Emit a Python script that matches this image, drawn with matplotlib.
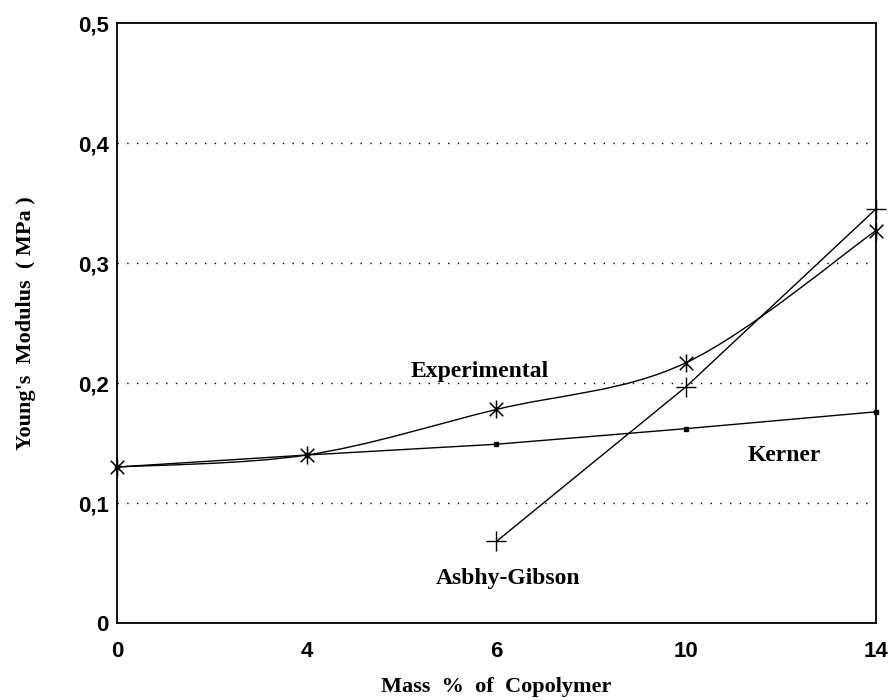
import matplotlib.pyplot as plt
import numpy as np
from matplotlib.path import Path
from matplotlib.patches import PathPatch
from matplotlib.ticker import FuncFormatter

# mass fraction of copolymer (%), plotted as evenly spaced categories
mass_pct = ['0', '4', '6', '10', '14']

experimental = [0.130, 0.140, 0.178, 0.217, 0.327]
kerner = [0.130, 0.140, 0.149, 0.162, 0.176]
ashby_x = ['6', '10', '14']
ashby_gibson = [0.068, 0.197, 0.345]

xpos = np.arange(len(mass_pct))
ashby_pos = [mass_pct.index(v) for v in ashby_x]


def smooth_path(x, y):
    # Bezier path through the points, tangent taken from the neighbours
    x = np.asarray(x, float)
    y = np.asarray(y, float)
    pts = np.column_stack([x, y])
    verts = [pts[0]]
    codes = [Path.MOVETO]
    n = len(pts)
    for i in range(n - 1):
        p_prev = pts[i - 1] if i > 0 else pts[i]
        p_next = pts[i + 2] if i + 2 < n else pts[i + 1]
        c1 = pts[i] + (pts[i + 1] - p_prev) / 6.0
        c2 = pts[i + 1] - (p_next - pts[i]) / 6.0
        verts += [c1, c2, pts[i + 1]]
        codes += [Path.CURVE4] * 3
    return Path(verts, codes)


# asterisk marker: vertical stroke plus an X
d = 0.75
star = Path([(0, -1), (0, 1), (-d, -d), (d, d), (-d, d), (d, -d)],
            [Path.MOVETO, Path.LINETO] * 3)

fig = plt.figure(figsize=(8.91, 7), dpi=100)
ax = fig.add_axes([0.1313, 0.110, 0.8517, 0.857])

# dotted horizontal grid
for g in [0.1, 0.2, 0.3, 0.4]:
    ax.axhline(g, color='black', lw=1.0, ls=(0, (1, 6)), zorder=1)

# experimental curve (smoothed) with star markers
ax.add_patch(PathPatch(smooth_path(xpos, experimental), fill=False,
                       edgecolor='black', lw=1.0, zorder=3))
ax.plot(xpos, experimental, ls='none', marker=star, ms=13,
        mec='black', mew=1.1, zorder=4, clip_on=False)

# Kerner model
ax.plot(xpos, kerner, color='black', lw=1.0, marker='s', ms=3.5,
        mfc='black', mec='black', zorder=3, clip_on=False)

# Ashby-Gibson model
ax.plot(ashby_pos, ashby_gibson, color='black', lw=1.0, marker='+', ms=15,
        mew=1.0, zorder=3, clip_on=False)

serif = ['Liberation Serif', 'DejaVu Serif']
ax.text(1.91, 0.21, 'Experimental', family=serif, fontweight='bold',
        fontsize=17, ha='center', va='center')
ax.text(3.52, 0.14, 'Kerner', family=serif, fontweight='bold',
        fontsize=17, ha='center', va='center')
ax.text(2.06, 0.0375, 'Asbhy-Gibson', family=serif, fontweight='bold',
        fontsize=17, ha='center', va='center')

ax.set_xlim(0, len(mass_pct) - 1)
ax.set_ylim(0, 0.5)
ax.set_xticks(xpos)
ax.set_xticklabels(mass_pct)
ax.set_yticks([0, 0.1, 0.2, 0.3, 0.4, 0.5])
ax.yaxis.set_major_formatter(
    FuncFormatter(lambda v, p: '0' if v == 0 else f'{v:.1f}'.replace('.', ',')))

sans = ['Liberation Sans', 'DejaVu Sans']
for lab in ax.get_xticklabels() + ax.get_yticklabels():
    lab.set_family(sans)
    lab.set_fontweight('bold')
    lab.set_fontsize(16)
ax.tick_params(axis='x', length=0, pad=13)
ax.tick_params(axis='y', length=0, pad=6)

for s in ax.spines.values():
    s.set_linewidth(1.3)
    s.set_color('black')

ax.set_xlabel('Mass  %  of  Copolymer', family=serif, fontweight='bold',
              fontsize=16, labelpad=11)
ax.set_ylabel("Young's  Modulus  ( MPa )", family=serif, fontweight='bold',
              fontsize=16, labelpad=30)

fig.savefig('out.png', dpi=100, facecolor='white')
